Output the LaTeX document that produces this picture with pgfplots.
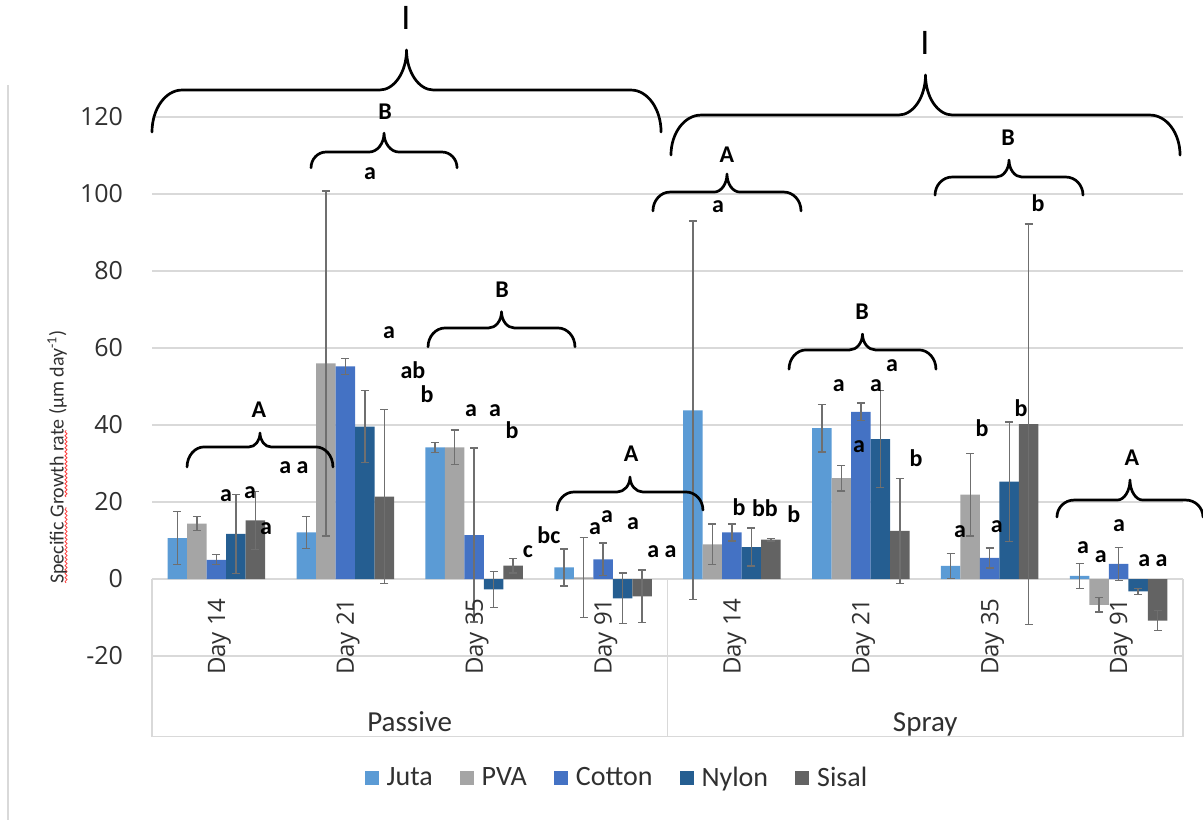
\documentclass[border=0pt]{standalone}
\usepackage{fontspec}
\setmainfont{Carlito}
\newfontfamily\tickfont{Open Sans}
\usepackage{pgfplots}
\usepackage{pgfplotstable}
\pgfplotsset{compat=1.18}
\usetikzlibrary{decorations.pathmorphing}

\definecolor{juta}{HTML}{5B9BD5}
\definecolor{pva}{HTML}{A5A5A5}
\definecolor{cotton}{HTML}{4472C4}
\definecolor{nylon}{HTML}{255E91}
\definecolor{sisal}{HTML}{636363}
\definecolor{gridgray}{HTML}{D9D9D9}
\definecolor{errgray}{HTML}{6F6F6F}
\definecolor{txt}{HTML}{303030}

% x: 0-3 = Passive day 14/21/35/91, 4-7 = Spray day 14/21/35/91
% y: mean specific growth rate, e: error bar half-length
\pgfplotstableread{
x y e
0 10.6 6.9
1 12.1 4.1
2 34.2 1.3
3 3.0 4.8
4 43.8 49.2
5 39.2 6.2
6 3.4 3.3
7 0.8 3.3
}\juta
\pgfplotstableread{
x y e
0 14.4 1.8
1 56.0 44.8
2 34.2 4.5
3 0.4 10.4
4 9.0 5.3
5 26.2 3.3
6 21.9 10.7
7 -6.7 1.9
}\pva
\pgfplotstableread{
x y e
0 5.0 1.3
1 55.2 2.1
2 11.4 22.6
3 5.1 4.2
4 12.1 2.2
5 43.4 2.3
6 5.5 2.6
7 3.9 4.3
}\cotton
\pgfplotstableread{
x y e
0 11.7 10.3
1 39.6 9.4
2 -2.7 4.7
3 -5.0 6.6
4 8.3 4.9
5 36.3 12.6
6 25.3 15.5
7 -3.2 0.8
}\nylon
\pgfplotstableread{
x y e
0 15.2 7.6
1 21.4 22.6
2 3.5 1.9
3 -4.5 6.8
4 10.2 0.3
5 12.5 13.6
6 40.2 52.0
7 -10.8 2.6
}\sisal

% curly brace: xL, xR, y at the ends, y of the flat part, y of the tip, corner width, cusp width
\newcommand{\grpbrace}[7]{%
  \draw[line width=1.35pt, line cap=round, line join=round]
    (axis cs:#1,#3)
    .. controls (axis cs:#1,{#3+0.55*(#4-#3)}) and (axis cs:{#1+0.45*#6},#4) .. (axis cs:{#1+#6},#4)
    -- (axis cs:{(#1+#2)/2-#7},#4)
    .. controls (axis cs:{(#1+#2)/2-0.45*#7},#4) and (axis cs:{(#1+#2)/2},{#4+0.45*(#5-#4)}) .. (axis cs:{(#1+#2)/2},#5)
    .. controls (axis cs:{(#1+#2)/2},{#4+0.45*(#5-#4)}) and (axis cs:{(#1+#2)/2+0.45*#7},#4) .. (axis cs:{(#1+#2)/2+#7},#4)
    -- (axis cs:{#2-#6},#4)
    .. controls (axis cs:{#2-0.45*#6},#4) and (axis cs:#2,{#3+0.55*(#4-#3)}) .. (axis cs:#2,#3);
}
% significance letter
\newcommand{\sig}[3]{\node[font=\bfseries\fontsize{12}{13}\selectfont, inner sep=0pt, text=black] at (axis cs:#1,#2) {#3};}
% rotated day label under a category
\newcommand{\daylab}[2]{\node[rotate=90, anchor=base east, inner sep=0pt, text=txt,
        font=\tickfont\fontsize{12}{14}\selectfont] at (axis cs:#1,-4.9) {Day #2};}

\pgfplotsset{
  errs/.style={
    draw=none,
    legend image code/.code={\fill[##1] (0pt,-3.5pt) rectangle (7pt,3.5pt);},
    error bars/.cd, y dir=both, y explicit,
    error bar style={errgray, line width=0.7pt},
    error mark options={errgray, rotate=90, mark size=2pt, line width=0.7pt},
  },
}

\begin{document}
\begin{tikzpicture}
\begin{axis}[
  scale only axis, width=515.5pt, height=309.925pt,
  xmin=-0.5, xmax=7.5, ymin=-41, ymax=120,
  axis line style={draw=none},
  major tick length=0pt,
  xtick=\empty,
  ytick={-20,0,20,40,60,80,100,120},
  ymajorgrids, grid style={gridgray, line width=0.6pt},
  /pgf/number format/assume math mode=true,
  yticklabel style={font=\tickfont\fontsize{12.5}{14}\selectfont, text=txt, xshift=-11pt},
  ylabel={Specific Growth rate (µm day\textsuperscript{-1})},
  ylabel style={at={(axis description cs:-0.0921,0.4516)}, anchor=center, font=\fontsize{10}{12}\selectfont, text=txt},
  ybar=0pt, bar width=9.75pt,
  clip=false,
  legend columns=5,
  legend style={at={(axis description cs:0.450,-0.0661)}, anchor=center,
    draw=none, fill=none, font=\fontsize{14}{16}\selectfont, text=txt,
    nodes={inner sep=0pt},
    /tikz/every odd column/.style={column sep=4pt},
    /tikz/every even column/.style={column sep=13.5pt}},
]
\addplot[fill=juta, errs] table[x=x, y=y, y error=e] {\juta};
\addplot[fill=pva, errs] table[x=x, y=y, y error=e] {\pva};
\addplot[fill=cotton, errs] table[x=x, y=y, y error=e] {\cotton};
\addplot[fill=nylon, errs] table[x=x, y=y, y error=e] {\nylon};
\addplot[fill=sisal, errs] table[x=x, y=y, y error=e] {\sisal};
\legend{Juta, PVA, Cotton, Nylon, Sisal}

% category frame below the zero line
\draw[gridgray, line width=0.6pt] (axis cs:-0.5,0) -- (axis cs:-0.5,-41) -- (axis cs:7.5,-41) -- (axis cs:7.5,0);
\draw[gridgray, line width=0.6pt] (axis cs:3.5,0) -- (axis cs:3.5,-41);
\draw[gridgray, line width=0.6pt] (axis cs:-1.617,128.3) -- (axis cs:-1.617,-62.6);

% day labels
\daylab{0.0667}{14}
\daylab{1.0667}{21}
\daylab{2.0667}{35}
\daylab{3.0667}{91}
\daylab{4.0667}{14}
\daylab{5.0667}{21}
\daylab{6.0667}{35}
\daylab{7.0667}{91}
\node[anchor=base, inner sep=0pt, text=txt, font=\fontsize{14.5}{16}\selectfont] at (axis cs:1.5,-39.6) {Passive};
\node[anchor=base, inner sep=0pt, text=txt, font=\fontsize{14.5}{16}\selectfont] at (axis cs:5.5,-39.6) {Spray};

% spell-check marks under the axis title
\draw[red!75, line width=0.4pt, decorate, decoration={snake, segment length=2pt, amplitude=0.5pt}]
  (axis cs:-1.167,-1.0) -- (axis cs:-1.167,18.7);
\draw[red!75, line width=0.4pt, decorate, decoration={snake, segment length=2pt, amplitude=0.5pt}]
  (axis cs:-1.167,21.3) -- (axis cs:-1.167,38.7);

% braces
\grpbrace{-0.5}{3.450}{116.1}{127.0}{137.4}{0.233}{0.210}
\grpbrace{3.527}{7.477}{110.1}{120.5}{130.9}{0.233}{0.210}
\grpbrace{0.734}{1.867}{106.8}{110.9}{115.8}{0.116}{0.116}
\grpbrace{-0.228}{0.904}{29.1}{34.3}{37.9}{0.132}{0.085}
\grpbrace{1.642}{2.782}{60.3}{65.2}{69.4}{0.132}{0.100}
\grpbrace{2.643}{3.775}{17.9}{22.6}{26.5}{0.132}{0.100}
\grpbrace{3.387}{4.536}{95.6}{100.5}{105.2}{0.132}{0.100}
\grpbrace{4.443}{5.583}{54.5}{59.5}{63.6}{0.132}{0.100}
\grpbrace{5.576}{6.724}{99.7}{104.4}{108.8}{0.132}{0.100}
\grpbrace{6.522}{7.655}{16.1}{20.5}{25.7}{0.132}{0.100}

% group labels
\node[font=\fontsize{18}{20}\selectfont, inner sep=0pt] at (axis cs:1.471,145.6) {I};
\node[font=\fontsize{18}{20}\selectfont, inner sep=0pt] at (axis cs:5.498,139.2) {I};
\sig{1.308}{121.3}{B}
\sig{1.191}{105.4}{a}
\sig{0.330}{43.9}{A}
\sig{2.216}{75.1}{B}
\sig{3.217}{32.5}{A}
\sig{3.961}{110.1}{A}
\sig{5.009}{69.3}{B}
\sig{6.142}{114.5}{B}
\sig{7.104}{31.4}{A}

% letters for single series
\sig{1.339}{64.1}{a}
\sig{1.525}{54.3}{ab}
\sig{1.634}{48.0}{b}
\sig{0.602}{28.8}{a a}
\sig{0.074}{21.6}{a}
\sig{0.260}{22.3}{a}
\sig{0.385}{13.2}{a}
\sig{1.975}{43.6}{a}
\sig{2.161}{43.6}{a}
\sig{2.293}{38.7}{b}
\sig{2.417}{7.0}{c}
\sig{2.580}{11.4}{bc}
\sig{2.937}{13.0}{a}
\sig{3.030}{16.1}{a}
\sig{3.232}{14.5}{a}
\sig{3.457}{7.0}{a a}
\sig{3.892}{96.6}{a}
\sig{5.242}{55.3}{a}
\sig{4.830}{50.1}{a}
\sig{5.118}{50.1}{a}
\sig{4.986}{34.5}{a}
\sig{5.428}{31.4}{b}
\sig{4.055}{18.7}{b}
\sig{4.256}{18.4}{bb}
\sig{4.481}{16.9}{b}
\sig{6.375}{97.6}{b}
\sig{5.940}{39.2}{b}
\sig{6.243}{44.4}{b}
\sig{5.769}{12.2}{a}
\sig{6.056}{13.5}{a}
\sig{7.003}{13.8}{a}
\sig{6.724}{8.1}{a}
\sig{6.863}{5.7}{a}
\sig{7.267}{4.7}{a a}
\end{axis}
\pgfresetboundingbox
\path[use as bounding box] ([xshift=-76pt,yshift=-41.5pt]current axis.south west) rectangle ([xshift=10pt,yshift=58.5pt]current axis.north east);
\end{tikzpicture}
\end{document}
